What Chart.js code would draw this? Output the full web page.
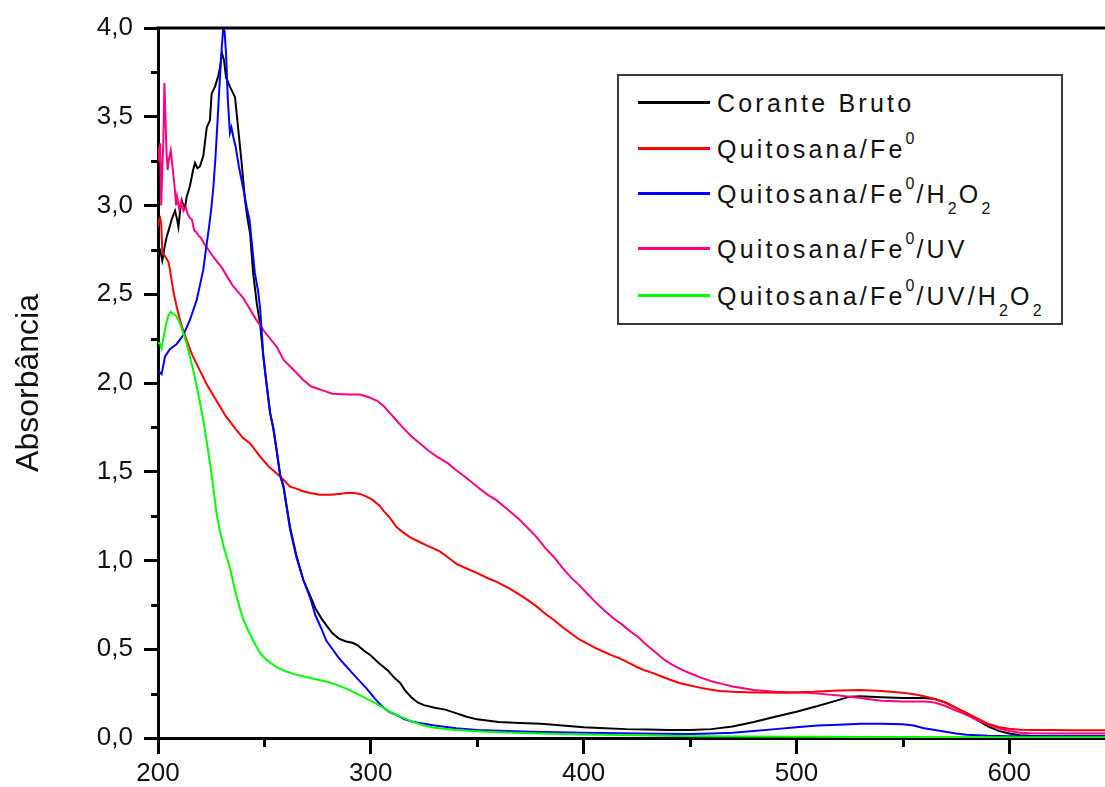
<!DOCTYPE html>
<html>
<head>
<meta charset="utf-8">
<script src="https://cdn.jsdelivr.net/npm/chart.js@4.4.1/dist/chart.umd.min.js"></script>
<style>
  html, body { margin: 0; padding: 0; background: #fff; }
  #wrap { position: relative; width: 1105px; height: 787px; overflow: hidden; }
  canvas { display: block; }
  #legend { position: absolute; left: 617px; top: 74px; width: 442px; height: 247px;
            border: 2px solid #3a3a3a; background: #fff; box-sizing: content-box;
            font-family: "Liberation Sans", Arial, sans-serif; color: #111; }
  .row { position: absolute; left: 0; height: 30px; width: 440px; }
  .sample { position: absolute; left: 19px; top: 13px; width: 72px; height: 3px; }
  .txt { position: absolute; left: 98px; top: 0; line-height: 30px; font-size: 25px;
         letter-spacing: 3.2px; white-space: nowrap; }
  .sup { font-size: 16px; position: relative; top: -14px; letter-spacing: 2px; }
  .sub { font-size: 16px; position: relative; top: 11px; letter-spacing: 2px; }
</style>
</head>
<body>
<div id="wrap">
  <canvas id="c" width="1105" height="787"></canvas>
  <div id="legend">
    <div class="row" style="top:12px"><div class="sample" style="background:#000000"></div><div class="txt">Corante Bruto</div></div>
    <div class="row" style="top:58px"><div class="sample" style="background:#ff0000"></div><div class="txt">Quitosana/Fe<span class="sup">0</span></div></div>
    <div class="row" style="top:103px"><div class="sample" style="background:#0000ff"></div><div class="txt">Quitosana/Fe<span class="sup">0</span>/H<span class="sub">2</span>O<span class="sub">2</span></div></div>
    <div class="row" style="top:158px"><div class="sample" style="background:#ff0080"></div><div class="txt">Quitosana/Fe<span class="sup">0</span>/UV</div></div>
    <div class="row" style="top:205px"><div class="sample" style="background:#00ff00"></div><div class="txt">Quitosana/Fe<span class="sup">0</span>/UV/H<span class="sub">2</span>O<span class="sub">2</span></div></div>
  </div>
</div>
<script>
// ---- Data ----
const seriesNames = ['Corante Bruto', 'Quitosana/Fe0', 'Quitosana/Fe0/H2O2', 'Quitosana/Fe0/UV', 'Quitosana/Fe0/UV/H2O2'];

const brutoX = [200,201,202,202.5,203,204,205,206.4,207,208,209,209.6,210.3,211.1,212,212.7,213.5,215,216.5,217.4,218.5,219.7,221.3,222.9,224.4,225.2,226.8,228.3,229.2,230,231,232,233.8,235,236.2,237.7,239.3,240.9,242,243.3,244.7,246.4,248,249.5,251,252.7,254.2,256,257.4,259,260.5,262,265,268.3,271.5,274,277,280,282,285,288,291.7,294,297,300,304,308,311,313.8,316,319,322,325,330,335,340,345,350,360,370,380,390,400,410,420,430,440,450,460,470,480,490,500,510,520,525,530,540,550,560,565,570,575,580,585,590,595,600,605,610,620,645];
const brutoY = [2.77,2.75,2.69,2.72,2.76,2.82,2.86,2.92,2.94,2.97,2.92,2.88,2.96,3.03,3.00,2.99,3.05,3.11,3.20,3.24,3.21,3.22,3.28,3.44,3.48,3.63,3.67,3.73,3.78,3.86,3.82,3.72,3.67,3.64,3.61,3.43,3.24,3.03,2.93,2.84,2.62,2.45,2.33,2.15,2.00,1.83,1.74,1.60,1.48,1.42,1.30,1.19,1.03,0.89,0.80,0.73,0.67,0.62,0.59,0.56,0.545,0.535,0.52,0.49,0.465,0.42,0.38,0.34,0.31,0.27,0.23,0.20,0.185,0.17,0.16,0.14,0.12,0.105,0.09,0.085,0.08,0.07,0.06,0.055,0.05,0.048,0.045,0.045,0.05,0.065,0.09,0.12,0.148,0.18,0.215,0.233,0.235,0.23,0.225,0.225,0.22,0.20,0.17,0.14,0.10,0.065,0.04,0.025,0.015,0.012,0.01,0.01];

const feX = [200,200.5,201,201.5,202,202.5,203,204,205,205.6,206.5,207.5,208.8,210,211.5,213.5,216,219.7,223,227.5,232,236.9,240,243.3,248,252,255.8,259,262,265,268,271.5,276,281,285,288.7,292,295,298,301,304,306,309,312,315,318.5,322,326,332.6,336,340.4,345,349.8,355,359.2,365.5,370,374,378,382,386,390,394,398,401.5,405,409.4,413,417,421,425,429,433,437,441,445,449,453,456,460,464,470,480,495,508,520,530,540,550,556,560,565,570,575,580,585,590,595,600,605,610,620,630,645];
const feY = [2.88,2.92,2.93,2.90,2.75,2.73,2.72,2.70,2.68,2.64,2.57,2.50,2.43,2.37,2.31,2.24,2.16,2.07,1.99,1.90,1.81,1.735,1.69,1.66,1.585,1.53,1.49,1.455,1.416,1.405,1.39,1.38,1.37,1.37,1.375,1.38,1.38,1.375,1.36,1.34,1.31,1.28,1.24,1.19,1.16,1.13,1.11,1.087,1.05,1.02,0.98,0.955,0.93,0.90,0.88,0.84,0.806,0.775,0.74,0.70,0.665,0.625,0.59,0.555,0.533,0.51,0.486,0.467,0.449,0.425,0.40,0.38,0.364,0.345,0.327,0.31,0.299,0.288,0.28,0.272,0.265,0.26,0.257,0.255,0.26,0.268,0.27,0.265,0.255,0.245,0.235,0.22,0.20,0.17,0.14,0.11,0.08,0.062,0.052,0.047,0.045,0.045,0.044,0.044];

const h2o2X = [200,200.1,201.7,203.3,205.6,208.8,211.9,215,218.2,221.3,222.5,224,225,226,227,228,229,230,230.7,231.3,232,232.8,233.8,234.5,235.5,236.5,238,240,241.7,243,244,245.5,247,248,249.5,251,252.7,254.2,256,257.4,259,260.5,262,265,268.3,271.5,274,277,279,282,285,288,291,294,298,302,306,309,312,316,320,330,340,350,375,400,425,450,460,470,480,490,500,510,520,530,540,550,555,560,565,570,575,580,590,600,620,645];
const h2o2Y = [2.06,2.07,2.05,2.15,2.19,2.22,2.27,2.355,2.468,2.64,2.75,2.88,2.98,3.10,3.27,3.48,3.70,3.90,4.00,3.98,3.85,3.60,3.41,3.44,3.38,3.33,3.22,3.10,2.99,2.92,2.80,2.62,2.52,2.42,2.15,1.99,1.83,1.75,1.60,1.48,1.41,1.30,1.18,1.02,0.89,0.79,0.69,0.61,0.55,0.50,0.45,0.41,0.37,0.33,0.28,0.22,0.17,0.145,0.13,0.105,0.09,0.07,0.055,0.045,0.035,0.03,0.025,0.022,0.025,0.03,0.04,0.05,0.06,0.07,0.075,0.08,0.08,0.078,0.07,0.055,0.045,0.035,0.025,0.018,0.012,0.01,0.01,0.01];

const uvX = [200,200.5,201,201.5,202,202.5,203,203.5,204,204.5,205,206,206.5,207,208,208.5,209,210,211,212,213,214,215,216,217,218,219,220,222,226,230,235,240,246,250,256,259,264,268,272,277,282,290,295,299,303,306,309,312,315,319,323,327,331,336,340,345,350,355,359,364,369,374,378,382,386,390,394,398,402,406,410,414,418,422,426,430,434,438,442,446,450,455,460,465,470,475,480,490,500,505,510,520,530,540,550,560,565,570,575,580,585,590,595,600,605,610,620,645];
const uvY = [3.33,3.25,3.35,3.00,3.20,3.35,3.69,3.50,3.30,3.20,3.25,3.31,3.25,3.20,3.08,3.00,3.05,2.98,3.02,2.97,2.99,2.95,2.93,2.92,2.86,2.85,2.83,2.82,2.78,2.71,2.65,2.55,2.48,2.36,2.29,2.20,2.13,2.07,2.02,1.98,1.96,1.94,1.935,1.935,1.92,1.90,1.87,1.83,1.79,1.75,1.70,1.66,1.62,1.585,1.55,1.51,1.465,1.415,1.37,1.34,1.29,1.24,1.18,1.13,1.07,1.02,0.96,0.905,0.86,0.81,0.76,0.715,0.675,0.64,0.60,0.565,0.52,0.48,0.44,0.41,0.385,0.365,0.34,0.32,0.305,0.29,0.28,0.27,0.26,0.257,0.255,0.25,0.24,0.225,0.21,0.205,0.205,0.20,0.18,0.155,0.13,0.10,0.075,0.055,0.04,0.03,0.027,0.025,0.025];

const uvh2o2X = [200,201,201.7,202.5,203.3,204.1,204.9,206,207.2,208.4,209.6,210.8,211.9,213.5,215,216.6,218.2,219.7,221.3,222.9,224.4,226,227.5,229,231,233.8,236,238,240,243,246,248,251,255,259,264,269,274.7,280,285,290,295,300,306,310,314,320,325,330,340,350,360,380,400,425,450,500,550,600,645];
const uvh2o2Y = [2.23,2.22,2.195,2.25,2.30,2.35,2.38,2.40,2.39,2.38,2.355,2.32,2.28,2.22,2.148,2.07,1.98,1.89,1.79,1.67,1.548,1.41,1.266,1.17,1.07,0.96,0.84,0.75,0.67,0.59,0.52,0.48,0.44,0.405,0.38,0.36,0.345,0.33,0.315,0.295,0.27,0.24,0.21,0.17,0.14,0.12,0.09,0.07,0.058,0.045,0.038,0.032,0.025,0.02,0.015,0.01,0.007,0.005,0.004,0.004];

const seriesColors = ['#000000', '#ff0000', '#0000ff', '#ff0080', '#00ff00'];
const xTickLabels = ['200', '300', '400', '500', '600'];
const yTickLabels = ['0,0','0,5','1,0','1,5','2,0','2,5','3,0','3,5','4,0'];
const yTitle = 'Absorbância';

function pts(xs, ys) { return xs.map((x, i) => ({ x: x, y: ys[i] })); }
const seriesData = [pts(brutoX, brutoY), pts(feX, feY), pts(h2o2X, h2o2Y), pts(uvX, uvY), pts(uvh2o2X, uvh2o2Y)];
const drawOrder = [4, 2, 1, 3, 0];

const FONT = '"Liberation Sans", Arial, Helvetica, sans-serif';

const frame = {
  id: 'frame',
  afterDraw(chart) {
    const { ctx, chartArea: a, scales: { x, y } } = chart;
    ctx.save();
    ctx.strokeStyle = '#000';
    ctx.lineWidth = 3;
    ctx.beginPath();
    ctx.moveTo(a.left - 1.5, a.top);
    ctx.lineTo(a.right + 2, a.top);
    ctx.stroke();
    // minor ticks
    ctx.beginPath();
    for (let v = 250; v <= x.max; v += 100) {
      const px = Math.round(x.getPixelForValue(v)) + 0.5;
      ctx.moveTo(px, a.bottom);
      ctx.lineTo(px, a.bottom + 9);
    }
    for (let v = 0.25; v < y.max; v += 0.5) {
      const py = Math.round(y.getPixelForValue(v)) + 0.5;
      ctx.moveTo(a.left, py);
      ctx.lineTo(a.left - 7, py);
    }
    ctx.stroke();
    ctx.restore();
  }
};

new Chart(document.getElementById('c'), {
  type: 'line',
  data: {
    datasets: seriesData.map((d, i) => ({
      label: seriesNames[i],
      data: d,
      borderColor: seriesColors[i],
      backgroundColor: seriesColors[i],
      borderWidth: 2,
      pointRadius: 0,
      tension: 0,
      fill: false,
      order: drawOrder[i]
    }))
  },
  options: {
    responsive: false,
    devicePixelRatio: 1,
    animation: false,
    parsing: true,
    layout: { padding: { top: 28, right: 0, left: 0, bottom: 0 } },
    plugins: { legend: { display: false }, tooltip: { enabled: false } },
    scales: {
      x: {
        type: 'linear',
        min: 200, max: 645,
        afterFit(s) { s.height = 49; },
        ticks: {
          stepSize: 100, includeBounds: false,
          color: '#111', padding: 4,
          font: { family: FONT, size: 26 },
          callback: (v) => { const i = xTickLabels.indexOf(String(v)); return i >= 0 ? xTickLabels[i] : ''; },
          maxRotation: 0
        },
        grid: { display: true, drawOnChartArea: false, drawTicks: true, tickLength: 16, tickWidth: 3, tickColor: '#000' },
        border: { display: true, width: 3, color: '#000' }
      },
      y: {
        type: 'linear',
        min: 0, max: 4,
        afterFit(s) { s.width = 158; },
        ticks: {
          stepSize: 0.5, color: '#111', padding: 11,
          font: { family: FONT, size: 26 },
          callback: (v) => yTickLabels[Math.round(v / 0.5)]
        },
        title: { display: true, text: yTitle, color: '#111', font: { family: FONT, size: 32 }, padding: { top: 10, bottom: 0 } },
        grid: { display: true, drawOnChartArea: false, drawTicks: true, tickLength: 14, tickWidth: 3, tickColor: '#000' },
        border: { display: true, width: 3, color: '#000' }
      }
    }
  },
  plugins: [frame]
});
</script>
</body>
</html>
